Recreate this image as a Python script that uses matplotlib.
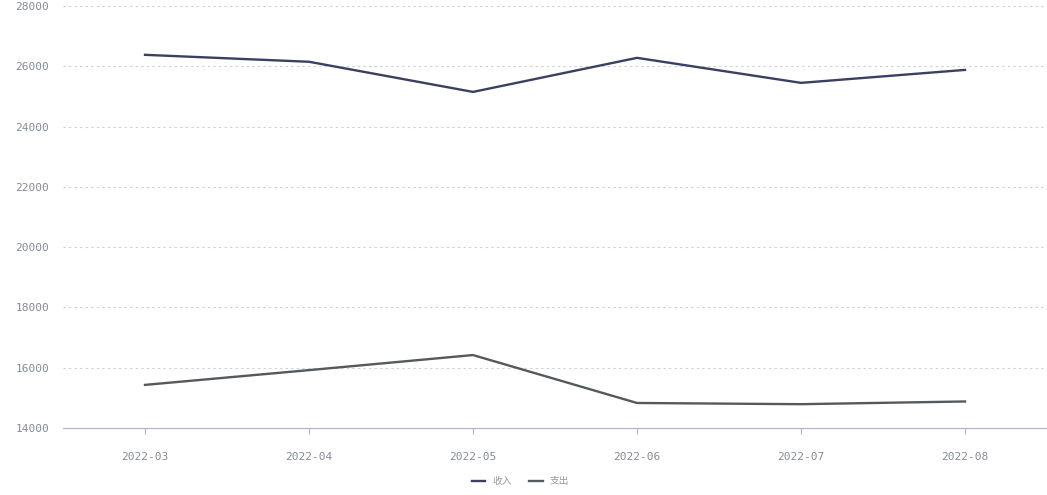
import matplotlib
matplotlib.use("Agg")
import matplotlib.pyplot as plt

plt.rcParams['font.family'] = ['Noto Sans CJK SC', 'DejaVu Sans']

months = ["2022-03", "2022-04", "2022-05", "2022-06", "2022-07", "2022-08"]
income = [26380, 26150, 25150, 26280, 25450, 25880]
expense = [15430, 15920, 16420, 14830, 14790, 14880]
yticks = [14000, 16000, 18000, 20000, 22000, 24000, 26000, 28000]

fig = plt.figure(figsize=(10.47, 4.95), dpi=100)
ax = fig.add_axes([63 / 1047, 67 / 495, 984 / 1047, 422 / 495])

xs = list(range(len(months)))
ax.plot(xs, income, color="#3c4060", lw=1.7, label="收入")
ax.plot(xs, expense, color="#56595c", lw=1.7, label="支出")

ax.set_xlim(-0.5, len(months) - 0.5)
ax.set_ylim(14000, 28000)
ax.set_yticks(yticks)
ax.set_yticklabels([str(v) for v in yticks])
ax.set_xticks(xs)
ax.set_xticklabels(months)

ax.grid(axis="y", color="#c8cfdc", ls=(0, (2, 3)), lw=0.8)
ax.set_axisbelow(True)
for s in ["top", "right", "left"]:
    ax.spines[s].set_visible(False)
ax.spines["bottom"].set_color("#aab4cc")
for lab in ax.get_xticklabels() + ax.get_yticklabels():
    lab.set_family("DejaVu Sans Mono")
ax.tick_params(axis="y", length=0, pad=10, labelsize=8, labelcolor="#858a95")
ax.tick_params(axis="x", length=4, color="#aab4cc", pad=13, labelsize=8, labelcolor="#858a95")

fig.legend(loc="lower center", bbox_to_anchor=(0.497, 0.0), ncol=2, frameon=False,
           fontsize=7, labelcolor="#999999", handlelength=1.4, columnspacing=1.8,
           handletextpad=0.7)

fig.savefig("out.png", dpi=100)
